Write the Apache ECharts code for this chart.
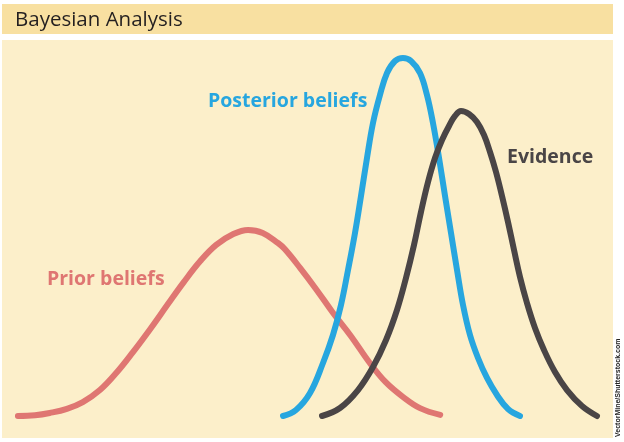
<!DOCTYPE html>
<html>
<head>
<meta charset="utf-8">
<script src="https://cdn.jsdelivr.net/npm/echarts@6/dist/echarts.min.js"></script>
<style>
html,body{margin:0;padding:0;background:#ffffff;}
#chart{width:624px;height:442px;}
</style>
</head>
<body>
<div id="chart"></div>
<script>
// Values: x = parameter (0-100), y = density (0-100)
const priorX     = [2.6, 5.4, 7.8, 10.6, 13.2, 16.0, 18.8, 21.4, 24.2, 27.0, 29.7, 32.4, 35.0, 37.8, 40.2, 42.6, 45.1, 46.2, 48.7, 51.3, 54.1, 57.0, 60.1, 62.7, 65.5, 68.3, 71.6];
const priorY     = [0.0, 0.2, 0.8, 1.9, 3.7, 6.9, 11.7, 17.0, 23.1, 29.5, 35.6, 41.2, 45.5, 48.4, 49.5, 48.7, 46.0, 44.4, 39.4, 33.8, 27.4, 21.3, 14.1, 9.0, 5.1, 2.1, 0.3];
const posteriorX = [45.92, 48.04, 50.33, 52.45, 54.08, 55.39, 56.54, 57.68, 58.66, 59.64, 60.62, 61.76, 62.91, 64.22, 65.52,
                    66.83, 68.30, 69.44, 70.42, 71.41, 72.39, 73.37, 74.35, 75.33, 76.47, 77.78, 79.25, 80.88, 82.68, 84.64];
const posteriorY = [0.0, 1.60, 6.12, 14.10, 21.54, 29.52, 38.83, 48.67, 58.51, 68.62, 77.93, 85.37, 91.22, 94.41, 95.21,
                    94.41, 91.22, 85.37, 77.93, 68.62, 58.51, 48.67, 38.83, 29.52, 21.54, 15.43, 10.11, 5.59, 1.86, 0.0];
const evidenceX  = [52.29, 55.23, 58.17, 60.62, 62.75, 64.54, 66.01, 67.32, 68.46, 69.61, 70.75, 71.90, 73.04, 74.02, 75.00,
                    76.31, 77.61, 78.76, 79.74, 80.72, 81.70, 82.68, 83.66, 84.64, 85.78, 87.09, 88.56, 90.36, 92.32, 94.77, 97.22];
const evidenceY  = [0.0, 2.13, 6.91, 13.03, 20.21, 28.19, 36.70, 45.48, 54.26, 62.23, 68.62, 73.40, 77.13, 79.79, 81.12,
                    80.32, 78.19, 74.73, 70.21, 64.89, 58.51, 51.60, 44.15, 36.97, 30.05, 23.40, 17.55, 11.70, 6.91, 2.66, 0.0];
const seriesNames = ['Prior beliefs', 'Posterior beliefs', 'Evidence'];
const titleText = 'Bayesian Analysis';
const creditText = 'VectorMine/Shutterstock.com';

const zip = (xs, ys) => xs.map((x, i) => [x, ys[i]]);
const colors = ['#df7672', '#27a6df', '#4a4546'];

const chart = echarts.init(document.getElementById('chart'), null, {renderer: 'canvas'});
const lineSeries = (name, data, color) => ({
  name: name, type: 'line', data: data, smooth: 0.4, showSymbol: false, clip: false,
  lineStyle: {color: color, width: 6, cap: 'round', join: 'round'},
  silent: true, animation: false, z: 5
});

chart.setOption({
  animation: false,
  backgroundColor: '#ffffff',
  grid: {left: 2, width: 612, top: 40, bottom: 26},
  xAxis: {type: 'value', min: 0, max: 100, show: false},
  yAxis: {type: 'value', min: 0, max: 100, show: false},
  graphic: [
    {type: 'rect', z: -10, shape: {x: 2, y: 4, width: 611, height: 30}, style: {fill: '#f8e0a1'}},
    {type: 'rect', z: -10, shape: {x: 2, y: 40, width: 611, height: 398}, style: {fill: '#fcefca'}},
    {type: 'text', z: 10, x: 15, y: 20, style: {text: titleText, fill: '#231f20', font: '20.5px "Open Sans"', textVerticalAlign: 'middle'}},
    {type: 'text', z: 10, x: 208, y: 101, style: {text: seriesNames[1], fill: colors[1], font: 'bold 19.5px "Open Sans"', textVerticalAlign: 'middle'}},
    {type: 'text', z: 10, x: 507, y: 157, style: {text: seriesNames[2], fill: colors[2], font: 'bold 19.5px "Open Sans"', textVerticalAlign: 'middle'}},
    {type: 'text', z: 10, x: 47, y: 279, style: {text: seriesNames[0], fill: colors[0], font: 'bold 19.5px "Open Sans"', textVerticalAlign: 'middle'}},
    {type: 'text', z: 10, x: 618, y: 437, rotation: Math.PI / 2, style: {text: creditText, fill: '#222222', font: 'bold 7px "Liberation Sans"', textVerticalAlign: 'middle'}}
  ],
  series: [
    lineSeries(seriesNames[0], zip(priorX, priorY), colors[0]),
    lineSeries(seriesNames[1], zip(posteriorX, posteriorY), colors[1]),
    lineSeries(seriesNames[2], zip(evidenceX, evidenceY), colors[2])
  ]
});
</script>
</body>
</html>
